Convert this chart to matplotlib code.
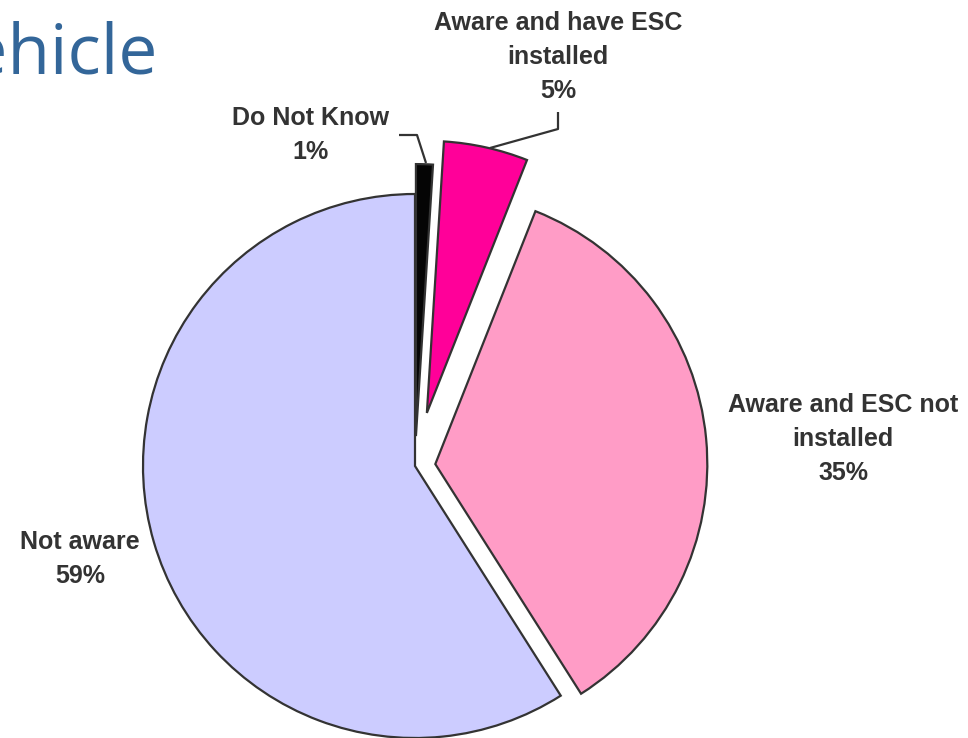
import matplotlib.pyplot as plt

labels = ['Do Not Know', 'Aware and have ESC\ninstalled', 'Aware and ESC not\ninstalled', 'Not aware']
shares = [1, 5, 35, 59]
colors = ['#050505', '#FF0099', '#FF9CC6', '#CCCCFF']
explode = [0.11, 0.2, 0.075, 0]

W, H = 968, 738
cx, cy, r = 415, 466, 272  # pie centre and radius in pixels


def px(x, y):
    # pixel position (from top-left) -> data coords, where pie radius = 1
    return (x - cx) / r, (cy - y) / r


fig = plt.figure(figsize=(W / 100, H / 100), dpi=100)
ax = fig.add_axes([0, 0, 1, 1])
ax.pie(shares, colors=colors, explode=explode, startangle=90, counterclock=False,
       wedgeprops=dict(edgecolor='#333333', linewidth=1.6))
ax.set_xlim(-cx / r, (W - cx) / r)
ax.set_ylim(-(H - cy) / r, cy / r)
ax.axis('off')

txt = dict(ha='center', va='center', fontsize=18, fontweight='bold',
           color='#333333', family='Liberation Sans', linespacing=1.54)
label_pos = [(311, 135), (558, 57), (843, 439), (80, 559)]
for lab, val, (x, y) in zip(labels, shares, label_pos):
    ax.text(*px(x, y), f'{lab}\n{val}%', **txt)

# leader lines for the two thin slices
for pts in [[(399, 135), (417, 135), (426, 163)],
            [(558, 112), (558, 129), (490, 148)]]:
    xs, ys = zip(*[px(x, y) for x, y in pts])
    ax.plot(xs, ys, color='#333333', lw=1.6, solid_capstyle='butt')

# slide title running off the left edge
fig.text(157 / W, 1 - 73 / H, 'Vehicle', ha='right', va='baseline',
         fontsize=50, color='#336699', family='Open Sans')

fig.savefig('out.png', dpi=100)
